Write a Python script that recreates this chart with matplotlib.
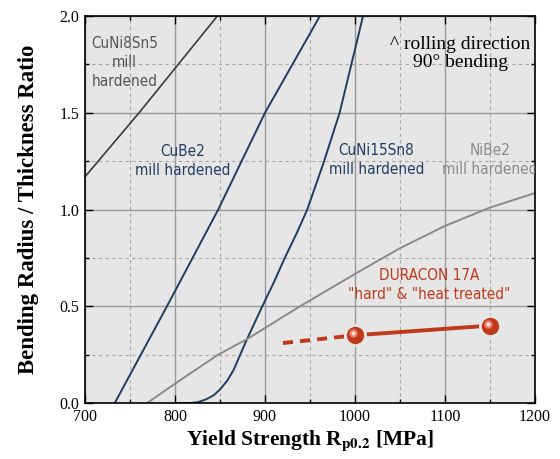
import numpy as np
import matplotlib.pyplot as plt
from matplotlib.ticker import MultipleLocator
from matplotlib.transforms import offset_copy

plt.rcParams['mathtext.fontset'] = 'stix'

# curves (yield strength MPa, bending radius / thickness)
cuni8sn5_x = [700, 760, 847]
cuni8sn5_y = [1.17, 1.50, 2.0]

cube2_x = [733, 791, 848, 900, 961]
cube2_y = [0.0, 0.5, 1.0, 1.5, 2.0]

cuni15sn8_x = [800, 818, 826, 835, 843, 850, 858, 865, 872, 880, 896, 910,
               922, 935, 947, 965, 983, 996, 1009]
cuni15sn8_y = [0.0, 0.0, 0.005, 0.02, 0.04, 0.07, 0.115, 0.17, 0.245, 0.33,
               0.49, 0.625, 0.75, 0.875, 1.0, 1.24, 1.5, 1.75, 2.0]

nibe2_x = [769, 800, 848, 880, 939, 1000, 1050, 1100, 1150, 1200]
nibe2_y = [0.0, 0.10, 0.25, 0.33, 0.5, 0.667, 0.80, 0.915, 1.01, 1.085]

duracon_x = [1000, 1150]
duracon_y = [0.35, 0.40]
duracon_ext_x = [920, 1000]
duracon_ext_y = [0.31, 0.35]

navy = '#1f3d63'
dark = '#3a3a3a'
gray = '#8a8a8a'
red = '#c0391b'
bg = '#e6e6e6'

sans = ['DejaVu Sans']
serif = ['Liberation Serif', 'DejaVu Serif']
note = dict(family=sans, fontsize=11, fontstretch='condensed',
            ha='center', va='center', linespacing=1.3)

fig = plt.figure(figsize=(5.6, 4.59), dpi=100)
ax = fig.add_axes([0.152, 0.122, 0.803, 0.843])
ax.set_facecolor(bg)

ax.plot(cuni8sn5_x, cuni8sn5_y, color=dark, lw=1.2)
ax.plot(cube2_x, cube2_y, color=navy, lw=1.4)
ax.plot(cuni15sn8_x, cuni15sn8_y, color=navy, lw=1.4)
ax.plot(nibe2_x, nibe2_y, color=gray, lw=1.4)

ax.plot(duracon_ext_x, duracon_ext_y, color=red, lw=2.8, dashes=(2.6, 1.8), zorder=3)
ax.plot(duracon_x, duracon_y, color=red, lw=2.8, zorder=3)
ax.plot(duracon_x, duracon_y, 'o', color=bg, ms=16.5, mew=0, zorder=4)
ax.plot(duracon_x, duracon_y, 'o', color=red, ms=12.5, mew=0, zorder=5)
hl = offset_copy(ax.transData, fig=fig, x=-1.5, y=1.5, units='points')
ax.plot(duracon_x, duracon_y, 'o', color='#e8826e', ms=6, mew=0, zorder=6, transform=hl)
ax.plot(duracon_x, duracon_y, 'o', color='#fbe3dc', ms=2.8, mew=0, zorder=7, transform=hl)

ax.set_xlim(700, 1200)
ax.set_ylim(0, 2.0)
ax.xaxis.set_major_locator(MultipleLocator(100))
ax.xaxis.set_minor_locator(MultipleLocator(50))
ax.yaxis.set_major_locator(MultipleLocator(0.5))
ax.yaxis.set_minor_locator(MultipleLocator(0.25))
ax.yaxis.set_major_formatter(plt.FormatStrFormatter('%.1f'))
ax.grid(which='major', color='#9a9a9a', lw=1.0, ls='-')
ax.grid(which='minor', color='#a8a8a8', lw=0.8, ls=(0, (3, 3)))
ax.set_axisbelow(True)
ax.tick_params(which='both', direction='in', top=True, right=True, width=1.0)
ax.tick_params(which='major', length=6, labelsize=11.5, pad=4)
ax.tick_params(which='minor', length=3)
for lab in ax.get_xticklabels() + ax.get_yticklabels():
    lab.set_family(serif)
for s in ax.spines.values():
    s.set_linewidth(1.2)

ax.set_xlabel('Yield Strength R$_{\\mathbf{p0.2}}$ [MPa]', family=serif,
              fontweight='bold', fontsize=15.5, labelpad=3)
ax.set_ylabel('Bending Radius / Thickness Ratio', family=serif,
              fontweight='bold', fontsize=16.5, labelpad=15)

ax.text(744, 1.76, 'CuNi8Sn5\nmill\nhardened', color='#555555', **note)
ax.text(809, 1.25, 'CuBe2\nmill hardened', color=navy, **note)
ax.text(1024, 1.255, 'CuNi15Sn8\nmill hardened', color=navy, **note)
ax.text(1150, 1.255, 'NiBe2\nmill hardened', color=gray, clip_on=True, **note)
ax.text(1117, 1.806, '^ rolling direction\n90\u00b0 bending', color='black', family=serif,
        fontsize=14, ha='center', va='center', linespacing=1.1)
ax.text(1083, 0.61, 'DURACON 17A\n"hard" & "heat treated"', color=red, **note)

fig.savefig('out.png', dpi=100)
